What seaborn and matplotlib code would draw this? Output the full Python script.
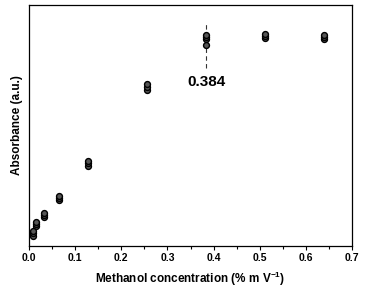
import matplotlib
matplotlib.use("Agg")
import matplotlib.pyplot as plt
import seaborn as sns
import pandas as pd

conc = [0.008, 0.016, 0.032, 0.064, 0.128, 0.256, 0.384, 0.512, 0.640]
rep1 = [0.041, 0.083, 0.120, 0.191, 0.332, 0.647, 0.859, 0.863, 0.859]
rep2 = [0.054, 0.091, 0.129, 0.199, 0.344, 0.660, 0.867, 0.871, 0.867]
rep3 = [0.062, 0.100, 0.137, 0.207, 0.353, 0.672, 0.876, 0.880, 0.876]
extra_x = [0.384]
extra_y = [0.834]
mark_x = 0.384
mark_label = "0.384"

xs = conc * 3 + extra_x
ys = rep1 + rep2 + rep3 + extra_y
df = pd.DataFrame({"x": xs, "y": ys})

sns.set_style("ticks")
plt.rcParams['font.family'] = ['Liberation Sans', 'DejaVu Sans']
plt.rcParams['text.color'] = 'black'
plt.rcParams['axes.labelcolor'] = 'black'
plt.rcParams['xtick.color'] = 'black'
plt.rcParams['ytick.color'] = 'black'
plt.rcParams['mathtext.fontset'] = 'custom'
plt.rcParams['mathtext.bf'] = 'Liberation Sans:bold'
plt.rcParams['mathtext.rm'] = 'Liberation Sans'

fig = plt.figure(figsize=(3.65, 2.9), dpi=100)
ax = fig.add_axes([0.0795, 0.152, 0.885, 0.831])
sns.scatterplot(data=df, x="x", y="y", ax=ax, s=18, marker="o",
                color="#555555", edgecolor="black", linewidth=1.0, zorder=3)
ax.plot([mark_x, mark_x], [0.74, 0.93], ls=(0, (4, 3)), color="#333333", lw=0.8)
ax.text(mark_x, 0.65, mark_label, ha="center", va="bottom", fontsize=11,
        fontweight="bold")

ax.set_xlim(0, 0.7)
ax.set_ylim(0, 1.0)
ax.set_xticks([0, 0.1, 0.2, 0.3, 0.4, 0.5, 0.6, 0.7])
ax.set_xticklabels(["0.0", "0.1", "0.2", "0.3", "0.4", "0.5", "0.6", "0.7"],
                   fontsize=7.5, fontweight="bold")
ax.set_xticks([0.05, 0.15, 0.25, 0.35, 0.45, 0.55, 0.65], minor=True)
ax.tick_params(axis="x", which="major", length=3, width=0.8, direction="out", pad=2)
ax.tick_params(axis="x", which="minor", length=2, width=0.8, direction="out")
ax.set_yticks([])
ax.set_xlabel("Methanol concentration (% m V$^{\\mathbf{-1}}$)", fontsize=8.5,
              fontweight="bold", labelpad=5)
ax.set_ylabel("Absorbance (a.u.)", fontsize=8.5, fontweight="bold", labelpad=4)
for sp in ax.spines.values():
    sp.set_visible(True)
    sp.set_linewidth(0.9)
    sp.set_color("black")

fig.savefig("out.png", dpi=100)
